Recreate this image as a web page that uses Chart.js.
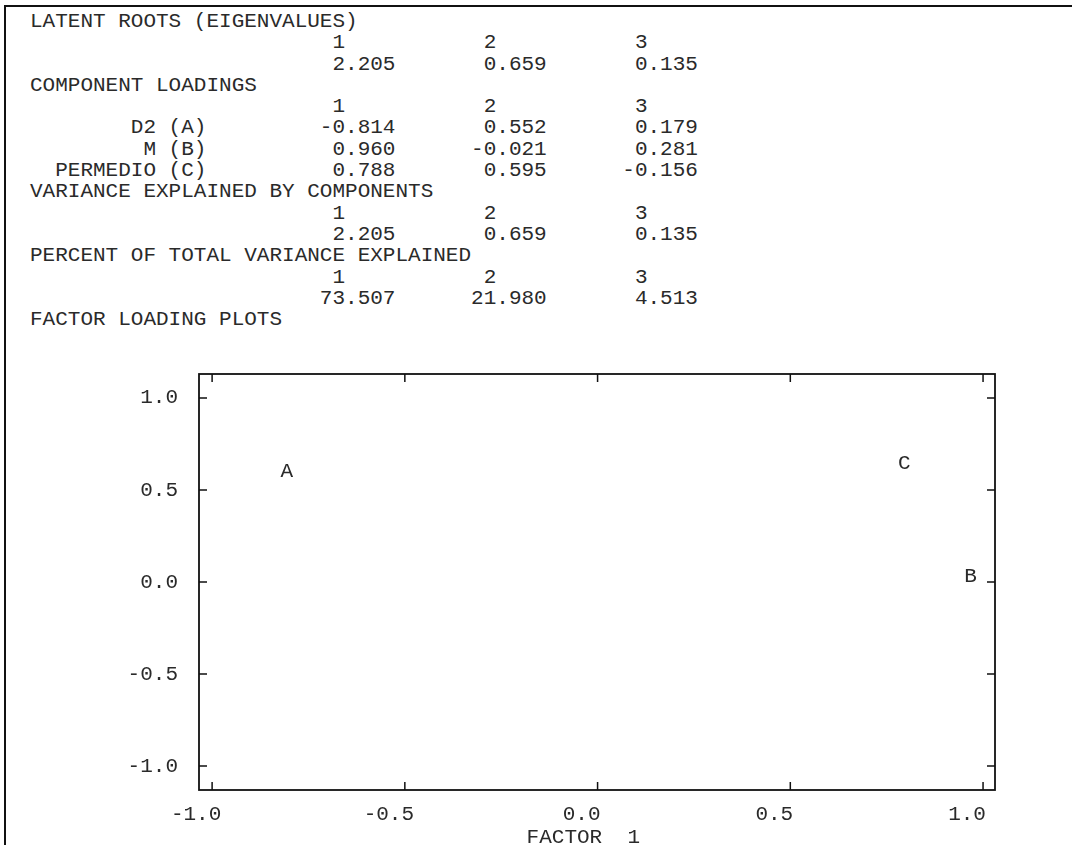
<!DOCTYPE html>
<html>
<head>
<meta charset="utf-8">
<script src="https://cdn.jsdelivr.net/npm/chart.js@4.4.0/dist/chart.umd.min.js"></script>
<style>
    body { margin: 0; background: #fff; }
    #page { position: relative; width: 1072px; height: 845px; overflow: hidden; background: #fff; }
    #frame { position: absolute; left: 4px; top: 5px; width: 1080px; height: 860px;
             border-left: 2px solid #111; border-top: 2px solid #111; }
    #listing { position: absolute; left: 30px; top: 11px; margin: 0;
               font-family: "Liberation Mono", monospace; font-size: 21px; line-height: 21.3px;
               color: #2a2a2a; white-space: pre; }
    #plot { position: absolute; left: 0; top: 0; }
</style>
</head>
<body>
<div id="page">
    <div id="frame"></div>
    <pre id="listing"></pre>
    <canvas id="plot" width="1072" height="845"></canvas>
</div>
<script>
// Output values
const components = ['1', '2', '3'];
const eigenvalues = [2.205, 0.659, 0.135];
const variables = ['D2 (A)', 'M (B)', 'PERMEDIO (C)'];
const pointLabels = ['A', 'B', 'C'];
const loadings1 = [-0.814, 0.960, 0.788];
const loadings2 = [0.552, -0.021, 0.595];
const loadings3 = [0.179, 0.281, -0.156];
const varianceExplained = [2.205, 0.659, 0.135];
const percentExplained = [73.507, 21.980, 4.513];
const xTicks = [-1.0, -0.5, 0.0, 0.5, 1.0];
const yTicks = [-1.0, -0.5, 0.0, 0.5, 1.0];
const xTitle = 'FACTOR  1';

const FONT = '"Liberation Mono", monospace';
const INK = '#2a2a2a';

// Printed listing, fixed columns like the original output
function headerRow() {
    return components.map((c, i) => ' '.repeat(i === 0 ? 24 : 11) + c).join('');
}
function valueRow(label, vals) {
    return label.padStart(14) + vals.map((v, i) => v.toFixed(3).padStart(i === 0 ? 15 : 12)).join('');
}

const lines = [
    'LATENT ROOTS (EIGENVALUES)',
    headerRow(),
    valueRow('', eigenvalues),
    'COMPONENT LOADINGS',
    headerRow(),
    valueRow(variables[0], [loadings1[0], loadings2[0], loadings3[0]]),
    valueRow(variables[1], [loadings1[1], loadings2[1], loadings3[1]]),
    valueRow(variables[2], [loadings1[2], loadings2[2], loadings3[2]]),
    'VARIANCE EXPLAINED BY COMPONENTS',
    headerRow(),
    valueRow('', varianceExplained),
    'PERCENT OF TOTAL VARIANCE EXPLAINED',
    headerRow(),
    valueRow('', percentExplained),
    'FACTOR LOADING PLOTS'
];
document.getElementById('listing').textContent = lines.join('\n');

// Box, inward ticks, letters and axis title
const framePlugin = {
    id: 'framePlugin',
    afterDraw(chart) {
        const c = chart.ctx;
        const a = chart.chartArea;
        const xs = chart.scales.x;
        const ys = chart.scales.y;
        const tl = 8;
        c.save();
        c.strokeStyle = '#111';
        c.lineWidth = 1.8;
        c.strokeRect(a.left, a.top, a.right - a.left, a.bottom - a.top);
        c.lineWidth = 1.5;
        c.beginPath();
        xTicks.forEach(v => {
            const px = xs.getPixelForValue(v);
            c.moveTo(px, a.bottom); c.lineTo(px, a.bottom - tl);
            c.moveTo(px, a.top); c.lineTo(px, a.top + tl);
        });
        yTicks.forEach(v => {
            const py = ys.getPixelForValue(v);
            c.moveTo(a.left, py); c.lineTo(a.left + tl, py);
            c.moveTo(a.right, py); c.lineTo(a.right - tl, py);
        });
        c.stroke();

        c.fillStyle = INK;
        c.font = '21px ' + FONT;
        c.textAlign = 'center';
        c.textBaseline = 'middle';
        const meta = chart.getDatasetMeta(0);
        meta.data.forEach((pt, i) => {
            c.fillText(pointLabels[i], pt.x + 3, pt.y - 9);
        });

        c.textAlign = 'left';
        c.fillText(xTitle, xs.getPixelForValue(0) - 71, 837);
        c.restore();
    }
};

new Chart(document.getElementById('plot'), {
    type: 'scatter',
    data: {
        datasets: [{
            data: loadings1.map((x, i) => ({ x: x, y: loadings2[i] })),
            pointRadius: 0,
            pointHoverRadius: 0
        }]
    },
    options: {
        responsive: false,
        animation: false,
        events: [],
        layout: { padding: { left: 0, right: 77, top: 374, bottom: 0 } },
        plugins: {
            legend: { display: false },
            tooltip: { enabled: false }
        },
        scales: {
            x: {
                type: 'linear',
                min: -1.034,
                max: 1.031,
                afterBuildTicks: s => { s.ticks = xTicks.map(v => ({ value: v })); },
                afterFit: s => { s.height = 55; },
                grid: { display: false, drawTicks: false },
                border: { display: false },
                ticks: {
                    font: { family: FONT, size: 21 },
                    color: INK,
                    padding: 12,
                    labelOffset: -16,
                    maxRotation: 0,
                    autoSkip: false,
                    callback: v => Number(v).toFixed(1)
                }
            },
            y: {
                type: 'linear',
                min: -1.13,
                max: 1.13,
                afterBuildTicks: s => { s.ticks = yTicks.map(v => ({ value: v })); },
                afterFit: s => { s.width = 199; },
                grid: { display: false, drawTicks: false },
                border: { display: false },
                ticks: {
                    font: { family: FONT, size: 21 },
                    color: INK,
                    padding: 21,
                    autoSkip: false,
                    callback: v => Number(v).toFixed(1)
                }
            }
        }
    },
    plugins: [framePlugin]
});
</script>
</body>
</html>
